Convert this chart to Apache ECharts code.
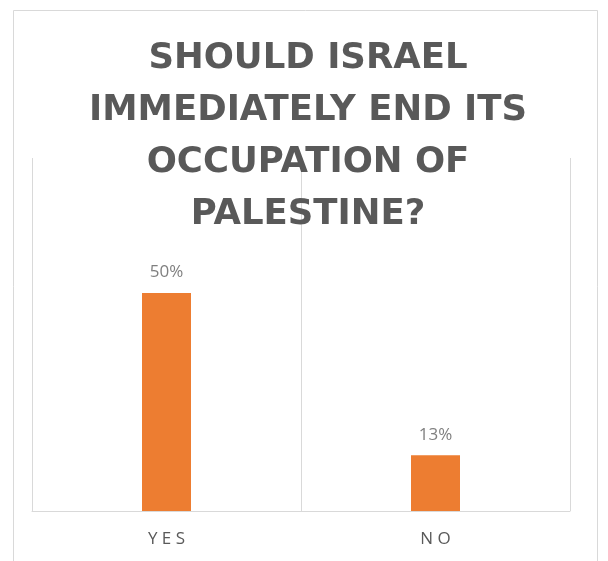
<!DOCTYPE html>
<html><head><meta charset="utf-8">
<script src="https://cdn.jsdelivr.net/npm/echarts@6/dist/echarts.min.js"></script>
<style>html,body{margin:0;padding:0;background:#fff}#c{width:608px;height:561px}</style>
</head><body><div id="c"></div>
<script>
const categories = ['Y E S', 'N O'];
const values = [0.50, 0.128];
const labels = ['50%', '13%'];
const titleText = 'SHOULD ISRAEL\nIMMEDIATELY END ITS\nOCCUPATION OF\nPALESTINE?';

const chart = echarts.init(document.getElementById('c'), null, {renderer: 'canvas'});
chart.setOption({
  animation: false,
  backgroundColor: '#fff',
  graphic: [{
    type: 'rect', shape: {x: 13.5, y: 10.5, width: 584, height: 600},
    style: {fill: 'none', stroke: '#d9d9d9', lineWidth: 1}, silent: true
  }],
  title: {
    text: titleText, left: 303, top: 28, textAlign: 'center',
    textStyle: {fontFamily: 'DejaVu Sans', fontWeight: 'bold', fontSize: 35.5, color: '#595959', lineHeight: 52}
  },
  grid: {left: 32, right: 38, top: 158, bottom: 50},
  xAxis: {
    type: 'category', data: categories,
    axisLine: {lineStyle: {color: '#d9d9d9', width: 1}},
    axisTick: {show: false},
    splitLine: {show: true, lineStyle: {color: '#d9d9d9', width: 1}},
    axisLabel: {color: '#595959', fontSize: 17, fontFamily: 'Open Sans', margin: 20, interval: 0}
  },
  yAxis: {type: 'value', min: 0, max: 0.81, show: false, splitLine: {show: false}},
  series: [{
    type: 'bar', data: values, barWidth: 49,
    itemStyle: {color: '#ed7d31'},
    label: {show: true, position: 'top', distance: 12, color: '#7f7f7f', fontSize: 17, fontFamily: 'Open Sans',
      formatter: p => labels[p.dataIndex]}
  }]
});
</script></body></html>
